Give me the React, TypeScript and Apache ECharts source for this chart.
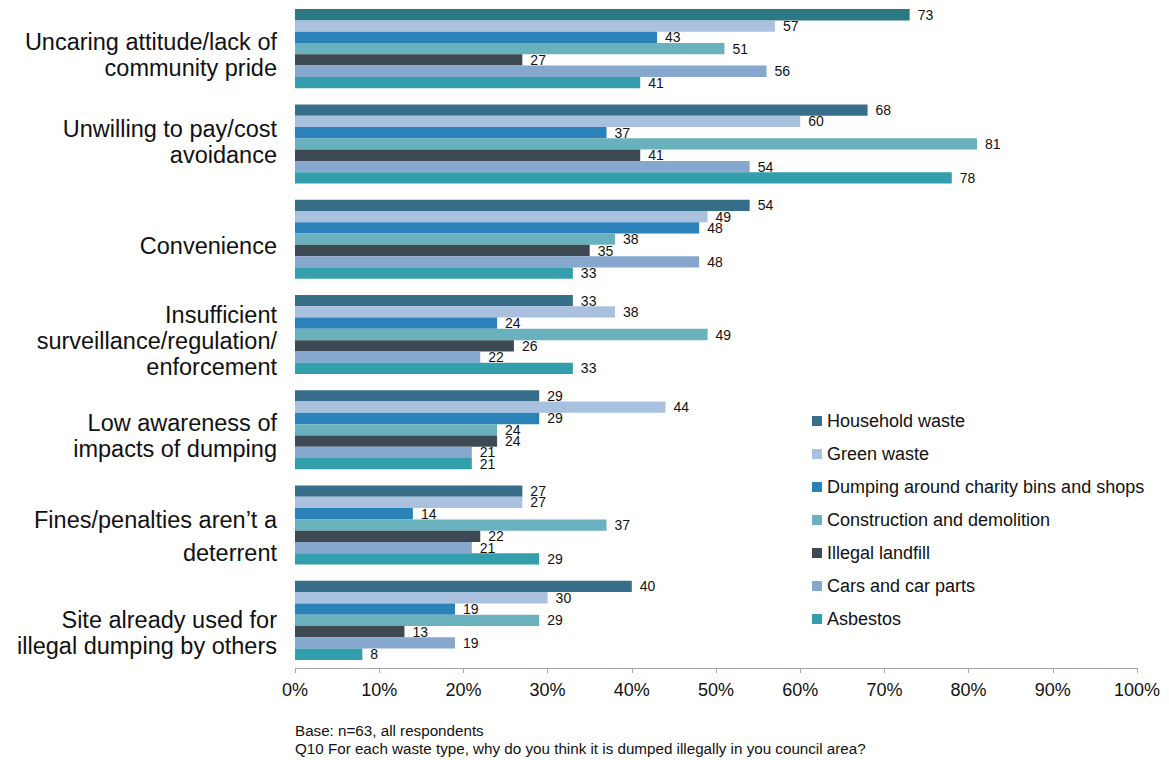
import React, { useEffect, useRef } from "react";
import * as echarts from "echarts";

const categories = [
  "Uncaring attitude/lack of\ncommunity pride",
  "Unwilling to pay/cost\navoidance",
  "Convenience",
  "Insufficient\nsurveillance/regulation/\nenforcement",
  "Low awareness of\nimpacts of dumping",
  "Fines/penalties aren\u2019t a\ndeterrent",
  "Site already used for\nillegal dumping by others",
];

const seriesNames = [
  "Household waste",
  "Green waste",
  "Dumping around charity bins and shops",
  "Construction and demolition",
  "Illegal landfill",
  "Cars and car parts",
  "Asbestos",
];

const household = [73, 68, 54, 33, 29, 27, 40];
const green = [57, 60, 49, 38, 44, 27, 30];
const charity = [43, 37, 48, 24, 29, 14, 19];
const construction = [51, 81, 38, 49, 24, 37, 29];
const landfill = [27, 41, 35, 26, 24, 22, 13];
const cars = [56, 54, 48, 22, 21, 21, 19];
const asbestos = [41, 78, 33, 33, 21, 29, 8];

const seriesValues = [household, green, charity, construction, landfill, cars, asbestos];
const colors = ["#376F8B", "#A9C0DE", "#2A82B8", "#6AB1BE", "#3D4A53", "#86A8CF", "#339EAC"];
const firstHouseholdColor = "#2C7986";

const xTicks = [0, 10, 20, 30, 40, 50, 60, 70, 80, 90, 100];

const footnotes = [
  "Base: n=63, all respondents",
  "Q10 For each waste type, why do you think it is dumped illegally in you council area?",
];

// label layout styling per category: spacer above/below and spacing of the last line
const labelStyle = [
  { top: 12, bottom: 0, lastLine: 26 },
  { top: 0, bottom: 4, lastLine: 26 },
  { top: 14, bottom: 0, lastLine: 26 },
  { top: 12, bottom: 0, lastLine: 26 },
  { top: 13, bottom: 0, lastLine: 26 },
  { top: 30, bottom: 0, lastLine: 40 },
  { top: 26, bottom: 0, lastLine: 26 },
];

const FONT = "Liberation Sans, Arial, sans-serif";

export default function App() {
  const ref = useRef<HTMLDivElement>(null);
  useEffect(() => {
    if (!ref.current) return;
    const chart = echarts.init(ref.current, undefined, { renderer: "svg" });
    const series = seriesNames.map((name, i) => ({
      name,
      type: "bar",
      data: seriesValues[i].map((v, j) =>
        i === 0 && j === 0 ? { value: v, itemStyle: { color: firstHouseholdColor } } : v
      ),
      itemStyle: { color: colors[i] },
      barGap: "0%",
      barCategoryGap: "17%",
      label: {
        show: true,
        position: "right",
        distance: 8,
        fontSize: 14,
        color: "#111",
        fontFamily: FONT,
      },
    }));
    const formatLabel = (value: string, index: number) => {
      const st = labelStyle[index] || { top: 0, bottom: 0, lastLine: 26 };
      const lines = value.split("\n");
      const parts: string[] = [];
      if (st.top > 0) parts.push("{s" + st.top + "| }");
      lines.forEach((ln, k) => {
        const isLast = k === lines.length - 1 && lines.length > 1;
        parts.push((isLast && st.lastLine !== 26 ? "{b|" : "{a|") + ln + "}");
      });
      if (st.bottom > 0) parts.push("{s" + st.bottom + "| }");
      return parts.join("\n");
    };
    const rich: Record<string, any> = {
      a: { fontSize: 23.5, lineHeight: 26, color: "#111", fontFamily: FONT, align: "right" },
      b: { fontSize: 23.5, lineHeight: 40, color: "#111", fontFamily: FONT, align: "right" },
    };
    labelStyle.forEach((st) => {
      [st.top, st.bottom].forEach((h) => {
        if (h > 0) rich["s" + h] = { fontSize: 1, lineHeight: h, align: "right" };
      });
    });
    chart.setOption({
      animation: false,
      textStyle: { fontFamily: FONT },
      grid: { left: 295, right: 32, top: 1, bottom: 92 },
      legend: {
        orient: "vertical",
        left: 807,
        top: 407,
        itemWidth: 10,
        itemHeight: 10,
        itemGap: 15,
        icon: "rect",
        data: seriesNames,
        textStyle: { fontSize: 18, color: "#111", fontFamily: FONT },
      },
      xAxis: {
        type: "value",
        min: xTicks[0],
        max: xTicks[xTicks.length - 1],
        interval: 10,
        splitLine: { show: false },
        axisLine: { show: true, lineStyle: { color: "#A6A6A6", width: 1 } },
        axisTick: { show: true, length: 5, lineStyle: { color: "#A6A6A6" } },
        axisLabel: {
          formatter: (v: number) => v + "%",
          fontSize: 18,
          color: "#111",
          margin: 13,
          fontFamily: FONT,
        },
      },
      yAxis: {
        type: "category",
        data: categories,
        inverse: true,
        axisLine: { show: false },
        axisTick: { show: false },
        axisLabel: {
          fontSize: 23.5,
          lineHeight: 26,
          color: "#111",
          margin: 18,
          align: "right",
          fontFamily: FONT,
          formatter: formatLabel,
          rich,
        },
      },
      graphic: footnotes.map((t, i) => ({
        type: "text",
        left: 295,
        top: 723 + i * 18,
        style: { text: t, fontSize: 15.2, fill: "#111", fontFamily: FONT },
      })),
      series,
    });
    return () => chart.dispose();
  }, []);
  return <div ref={ref} style={{ width: 1169, height: 760, position: "absolute", left: 0, top: 0 }} />;
}
